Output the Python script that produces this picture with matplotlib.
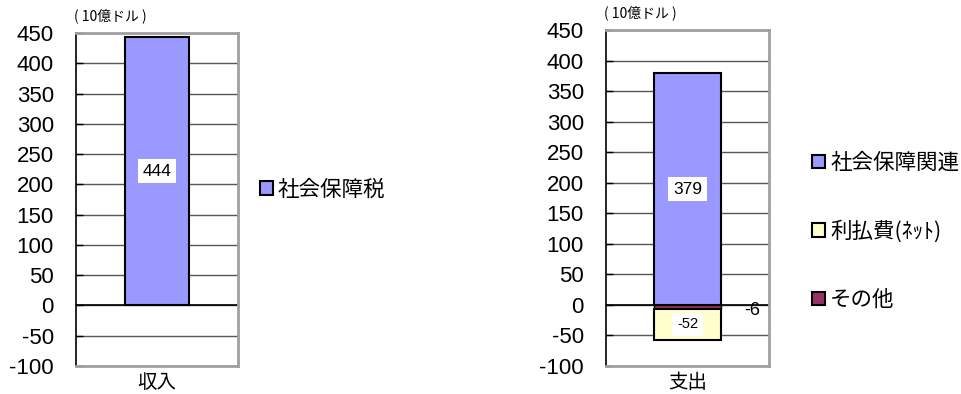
import matplotlib
matplotlib.use("Agg")
import matplotlib.pyplot as plt
from matplotlib.patches import Patch

plt.rcParams['font.family'] = ['Liberation Sans', 'Noto Sans CJK JP', 'DejaVu Sans']
plt.rcParams['axes.unicode_minus'] = False
JP = ['Noto Sans CJK JP', 'DejaVu Sans']

# Revenue side
rev_category = ["収入"]
rev_labels = ["社会保障税"]
rev_values = [444]

# Spending side (stack order: social security, other, net interest)
exp_category = ["支出"]
exp_labels = ["社会保障関連", "利払費(ﾈｯﾄ)", "その他"]
exp_social = [379]
exp_interest = [-52]
exp_other = [-6]

unit_label = "( 10億ドル )"
yticks = list(range(-100, 451, 50))

C_SOCIAL = "#9999ff"
C_INTEREST = "#ffffcc"
C_OTHER = "#993366"

fig = plt.figure(figsize=(9.61, 3.94), dpi=100)
ax1 = fig.add_axes([0.0791, 0.0711, 0.1686, 0.8451])
ax2 = fig.add_axes([0.6306, 0.0711, 0.1696, 0.8528])


def style_axes(ax):
    ax.set_ylim(-100, 450)
    ax.set_xlim(-0.5, 0.5)
    ax.set_yticks(yticks)
    ax.tick_params(axis='y', direction='in', length=5, width=1, labelsize=16, pad=16)
    ax.tick_params(axis='x', length=0, labelsize=14, pad=4)
    for t in yticks:
        ax.axhline(t, color='#555555', lw=1, zorder=0)
    ax.axhline(0, color='black', lw=1.2, zorder=1)
    for s in ['top', 'right', 'bottom']:
        ax.spines[s].set_color('#a0a0a0')
        ax.spines[s].set_linewidth(2)
    ax.spines['left'].set_color('black')
    ax.spines['left'].set_linewidth(1.2)
    for lab in ax.get_xticklabels():
        lab.set_fontfamily(JP)
    ax.text(-0.01, 1.03, unit_label, transform=ax.transAxes, fontsize=10,
            family=JP, ha='left', va='bottom')


bbox = dict(facecolor='white', edgecolor='none', pad=3.5)
W = 0.40

# Left chart
ax1.bar(rev_category, rev_values, width=W, color=C_SOCIAL, edgecolor='black',
        linewidth=1.5, zorder=2, label=rev_labels[0])
style_axes(ax1)
ax1.text(0, rev_values[0] / 2, f"{rev_values[0]}", ha='center', va='center',
         fontsize=12.5, bbox=bbox, zorder=5)
ax1.legend(handles=[Patch(facecolor=C_SOCIAL, edgecolor='black', linewidth=1.5,
                          label=rev_labels[0])],
           loc='center left', bbox_to_anchor=(1.08, 0.53), frameon=False,
           prop={'family': JP, 'size': 15.5}, handlelength=0.6, handleheight=0.6,
           handletextpad=0.25, borderaxespad=0)

# Right chart
ax2.bar(exp_category, exp_social, width=W + 0.01, color=C_SOCIAL, edgecolor='black',
        linewidth=1.5, zorder=2)
ax2.bar(exp_category, exp_other, width=W + 0.01, color=C_OTHER, edgecolor='black',
        linewidth=1.0, zorder=2)
ax2.bar(exp_category, exp_interest, bottom=exp_other, width=W + 0.01, color=C_INTEREST,
        edgecolor='black', linewidth=1.5, zorder=2)
style_axes(ax2)
ax2.text(0, exp_social[0] / 2, f"{exp_social[0]}", ha='center', va='center',
         fontsize=12.5, bbox=bbox, zorder=5)
ax2.text(0, exp_other[0] + exp_interest[0] / 2, f"{exp_interest[0]}", ha='center',
         va='center', fontsize=10.5, bbox=bbox, zorder=5)
ax2.text(0.40, exp_other[0] * 1.4, f"{exp_other[0]}", ha='center', va='center',
         fontsize=13, zorder=5)

handles = [Patch(facecolor=c, edgecolor='black', linewidth=1.5, label=l)
           for c, l in zip([C_SOCIAL, C_INTEREST, C_OTHER], exp_labels)]
ax2.legend(handles=handles, loc='center left', bbox_to_anchor=(1.21, 0.40),
           frameon=False, prop={'family': JP, 'size': 15.5}, handlelength=0.6,
           handleheight=0.6, handletextpad=0.25, labelspacing=2.15, borderaxespad=0)

fig.savefig("out.png", dpi=100)
